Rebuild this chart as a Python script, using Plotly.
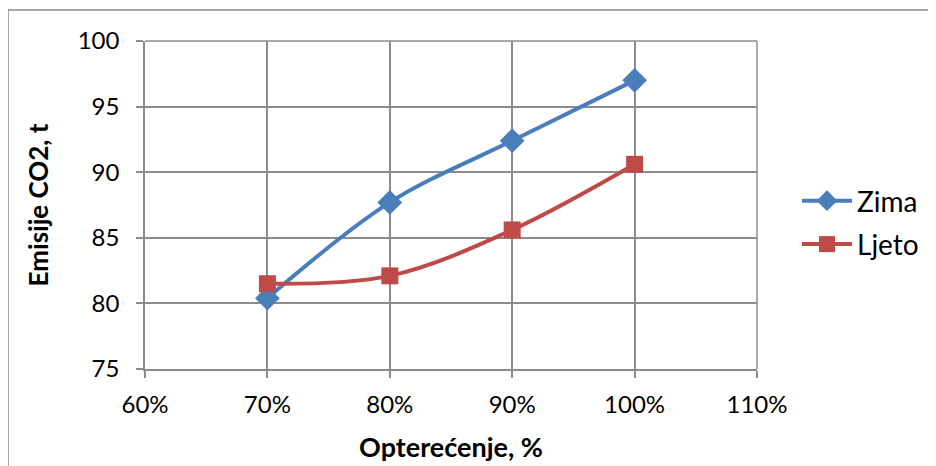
import plotly.graph_objects as go

x_load = [0.7, 0.8, 0.9, 1.0]
zima = [80.4, 87.7, 92.4, 97.0]
ljeto = [81.5, 82.1, 85.6, 90.6]
x_ticks = [0.6, 0.7, 0.8, 0.9, 1.0, 1.1]
x_tick_labels = ["60%", "70%", "80%", "90%", "100%", "110%"]
y_ticks = [75, 80, 85, 90, 95, 100]

W, H = 936, 466
OFF = 8  # page body margin
L, R, T, B = 145 - OFF, 757 - OFF, 41 - OFF, 369 - OFF
pw, ph = R - L, B - T

def px(xs):
    return (xs - OFF - L) / pw

def py(ys):
    return (B - (ys - OFF)) / ph

FONT = "Lato, 'Open Sans', sans-serif"
GRID = "#8C8C8C"

fig = go.Figure()
fig.add_trace(go.Scatter(
    x=x_load, y=zima, name="Zima", mode="lines+markers", legendgroup="a",
    line=dict(color="#4A7EBB", width=4, shape="spline"),
    marker=dict(symbol="diamond", size=19, color="#4A7EBB"),
))
fig.add_trace(go.Scatter(
    x=x_load, y=ljeto, name="Ljeto", mode="lines+markers", legendgroup="b",
    line=dict(color="#BE4B48", width=4, shape="spline"),
    marker=dict(symbol="square", size=17, color="#BE4B48"),
))

fig.update_layout(
    width=W, height=H,
    margin=dict(l=L, r=W - R, t=T, b=H - B),
    paper_bgcolor="white", plot_bgcolor="white",
    font=dict(family=FONT, size=24, color="black"),
    showlegend=True,
    legend=dict(x=px(797), y=py(176), xanchor="left", yanchor="top",
                font=dict(size=28), bgcolor="rgba(0,0,0,0)",
                tracegroupgap=4, itemwidth=50),
    xaxis=dict(range=[0.6, 1.1], tickvals=x_ticks, ticktext=x_tick_labels,
               showgrid=True, gridcolor=GRID, gridwidth=1.5,
               showline=True, linecolor=GRID, linewidth=1.5,
               ticks="outside", ticklen=7, tickcolor=GRID, tickwidth=1.5,
               ticklabelstandoff=6,
               zeroline=False, tickfont=dict(size=24),
               title=dict(text="<b>Opterećenje, %</b>", font=dict(size=27), standoff=22)),
    yaxis=dict(range=[75, 100], tickvals=y_ticks,
               showgrid=True, gridcolor=GRID, gridwidth=1.5,
               showline=True, linecolor=GRID, linewidth=1.5,
               ticks="outside", ticklen=7, tickcolor=GRID, tickwidth=1.5,
               ticklabelstandoff=12,
               zeroline=False, tickfont=dict(size=24),
               title=dict(text="<b>Emisije CO2, t</b>", font=dict(size=26), standoff=22)),
    shapes=[
        dict(type="rect", xref="paper", yref="paper",
             x0=px(8), x1=px(933), y0=py(480), y1=py(10),
             line=dict(color=GRID, width=1.5), fillcolor="rgba(0,0,0,0)", layer="below"),
        dict(type="line", xref="paper", yref="paper",
             x0=1, x1=1, y0=0, y1=1, line=dict(color=GRID, width=1.5)),
        dict(type="line", xref="paper", yref="paper",
             x0=0, x1=1, y0=1, y1=1, line=dict(color=GRID, width=1.5)),
    ],
)

fig.write_html("out.html")
